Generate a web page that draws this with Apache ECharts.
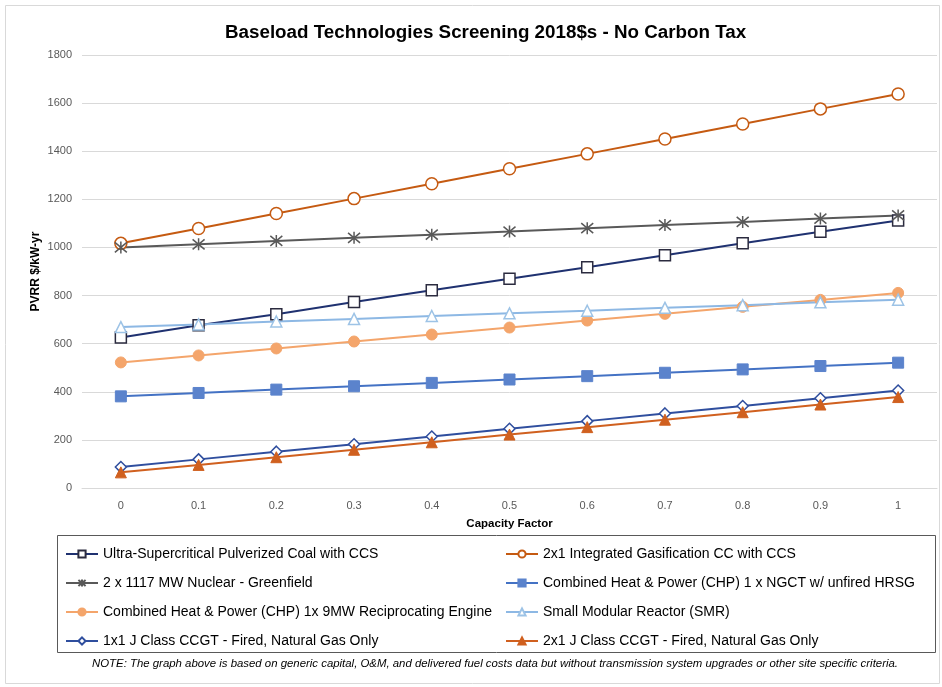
<!DOCTYPE html>
<html>
<head>
<meta charset="utf-8">
<script src="https://cdn.jsdelivr.net/npm/echarts@6/dist/echarts.min.js"></script>
<style>
  html, body { margin: 0; padding: 0; background: #fff; }
  #chart { width: 942px; height: 687px; }
</style>
</head>
<body>
<div id="chart"></div>
<script>
// Capacity factor categories
const capacityFactors = ['0', '0.1', '0.2', '0.3', '0.4', '0.5', '0.6', '0.7', '0.8', '0.9', '1'];

// PVRR ($/kW-yr) by technology
const uscPcCcs      = [626, 677, 722, 773, 822, 870, 918, 968, 1017, 1065, 1112];
const igccCcs       = [1017, 1079, 1141, 1203, 1265, 1327, 1389, 1451, 1513, 1576, 1638];
const nuclear       = [1000, 1013, 1027, 1040, 1053, 1066, 1080, 1093, 1106, 1120, 1133];
const chpNgct       = [381, 395, 409, 423, 437, 451, 465, 479, 493, 507, 521];
const chpRecip      = [522, 551, 580, 609, 638, 667, 696, 724, 753, 782, 811];
const smr           = [669, 680, 692, 703, 715, 726, 737, 749, 760, 772, 783];
const ccgt1x1       = [87, 119, 151, 182, 214, 246, 278, 310, 341, 373, 405];
const ccgt2x1       = [65, 96, 128, 159, 190, 222, 253, 284, 315, 347, 378];

const names = [
  'Ultra-Supercritical Pulverized Coal with CCS',
  '2x1 Integrated Gasification CC with CCS',
  '2 x 1117 MW Nuclear - Greenfield',
  'Combined Heat & Power (CHP) 1 x NGCT w/ unfired HRSG',
  'Combined Heat & Power (CHP) 1x 9MW Reciprocating Engine',
  'Small Modular Reactor (SMR)',
  '1x1 J Class CCGT - Fired, Natural Gas Only',
  '2x1 J Class CCGT - Fired, Natural Gas Only'
];

const FONT = '"Liberation Sans", Arial, sans-serif';
const asterisk = 'path://M0,0L10,10M10,0L0,10M5,-1L5,11';

function lineSeries(name, data, color, symbol, size, filled, markerColor) {
  const mc = markerColor || color;
  return {
    name: name,
    type: 'line',
    data: data,
    symbol: symbol,
    symbolSize: size,
    showAllSymbol: true,
    lineStyle: { color: color, width: 2 },
    itemStyle: filled
      ? { color: mc, borderColor: mc, borderWidth: 1 }
      : { color: symbol === asterisk ? 'rgba(0,0,0,0)' : '#fff', borderColor: mc, borderWidth: 1.5 },
    emphasis: { disabled: true },
    animation: false
  };
}

const legendBase = {
  orient: 'vertical',
  top: 542,
  itemWidth: 32,
  itemHeight: 9,
  itemGap: 15,
  textStyle: { fontFamily: FONT, fontSize: 14, color: '#000' },
  selectedMode: false
};

const chart = echarts.init(document.getElementById('chart'), null, { renderer: 'canvas' });

chart.setOption({
  backgroundColor: '#fff',
  animation: false,
  title: {
    text: 'Baseload Technologies Screening 2018$s - No Carbon Tax',
    left: 220,
    top: 18,
    textStyle: { fontFamily: FONT, fontSize: 18.8, fontWeight: 'bold', color: '#000' }
  },
  grid: { left: 82, right: 5, top: 55, bottom: 199, containLabel: false },
  xAxis: {
    type: 'category',
    data: capacityFactors,
    boundaryGap: true,
    name: 'Capacity Factor',
    nameLocation: 'middle',
    nameGap: 30,
    nameTextStyle: { fontFamily: FONT, fontSize: 11.5, fontWeight: 'bold', color: '#000' },
    axisLine: { lineStyle: { color: '#D9D9D9', width: 1 } },
    axisTick: { show: false },
    axisLabel: { fontFamily: FONT, fontSize: 11, color: '#595959', margin: 12 },
    splitLine: { show: false }
  },
  yAxis: {
    type: 'value',
    min: 0,
    max: 1800,
    interval: 200,
    name: 'PVRR $/kW-yr',
    nameLocation: 'middle',
    nameGap: 40,
    nameMoveOverlap: false,
    nameTextStyle: { fontFamily: FONT, fontSize: 12, fontWeight: 'bold', color: '#000' },
    axisLine: { show: false },
    axisTick: { show: false },
    axisLabel: { fontFamily: FONT, fontSize: 11, color: '#595959', margin: 10, formatter: v => String(v) },
    splitLine: { lineStyle: { color: '#D9D9D9', width: 1 } }
  },
  legend: [
    Object.assign({}, legendBase, { data: [names[0], names[2], names[4], names[6]], left: 60 }),
    Object.assign({}, legendBase, { data: [names[1], names[3], names[5], names[7]], left: 500 })
  ],
  graphic: [
    {
      type: 'rect',
      shape: { x: 5.5, y: 5.5, width: 934, height: 678 },
      style: { fill: 'none', stroke: '#D9D9D9', lineWidth: 1 },
      silent: true, z: -1
    },
    {
      type: 'rect',
      shape: { x: 57.5, y: 535.5, width: 878, height: 117 },
      style: { fill: 'none', stroke: '#595959', lineWidth: 1 },
      silent: true
    },
    {
      type: 'text',
      left: 92,
      top: 658,
      style: {
        text: 'NOTE: The graph above is based on generic capital, O&M, and delivered fuel costs data but without transmission system upgrades or other site specific criteria.',
        fontFamily: FONT,
        fontSize: 11.4,
        fontStyle: 'italic',
        fill: '#000'
      },
      silent: true
    }
  ],
  series: [
    lineSeries(names[0], uscPcCcs, '#1F3170', 'rect', 11, false, '#2B2B3F'),
    lineSeries(names[1], igccCcs, '#C55A11', 'circle', 12, false),
    lineSeries(names[2], nuclear, '#595959', asterisk, 12, false),
    lineSeries(names[3], chpNgct, '#4472C4', 'rect', 11, true, '#5B83CC'),
    lineSeries(names[4], chpRecip, '#F4A56B', 'circle', 11, true, '#F4A56B'),
    lineSeries(names[5], smr, '#8DB8E4', 'triangle', 11, false, '#9DC3E6'),
    lineSeries(names[6], ccgt1x1, '#2F4E9E', 'diamond', 11, false, '#2F4E9E'),
    lineSeries(names[7], ccgt2x1, '#D0601F', 'triangle', 11, true, '#D0601F')
  ]
});
</script>
</body>
</html>
